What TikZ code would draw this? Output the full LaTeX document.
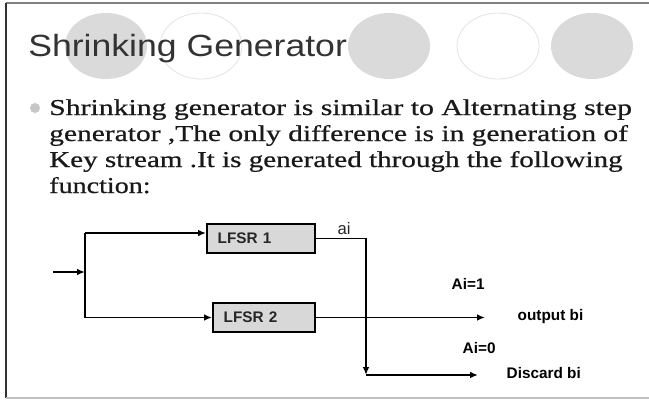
\documentclass[tikz,border=0pt]{standalone}
\usepackage{fontspec}
\usepackage{graphicx}
\setmainfont{Liberation Serif}
\setsansfont{Liberation Sans}
\newfontfamily\bodyfont{Liberation Serif}[FakeBold=0.6]
\usetikzlibrary{arrows.meta}

\definecolor{discgray}{HTML}{DADADA}
\definecolor{ringgray}{HTML}{E2E2E2}
\definecolor{boxgray}{HTML}{D8D8D8}
\definecolor{titlegray}{HTML}{333333}

% stretch a line of text to a given width, keep its height
\newcommand{\fitline}[2]{\resizebox{#1}{\height}{#2}}

\begin{document}
\begin{tikzpicture}[x=0.75pt,y=-0.75pt,
  graydisc/.style={fill=discgray,draw=none},
  ring/.style={draw=ringgray,line width=0.6pt},
  wire/.style={line width=1.4pt},
  flow/.style={wire,-{Latex[length=6pt,width=5pt]}},
  lfsr/.style={draw,line width=1.4pt,fill=boxgray,minimum height=21.75pt,
    inner xsep=8pt,align=left,text=black!85,
    font=\sffamily\bfseries\fontsize{11.5}{12}\selectfont},
  lbl/.style={anchor=base west,font=\sffamily\bfseries\fontsize{11.5}{12}\selectfont},
  body/.style={anchor=base west,inner sep=0pt,text=black!90,
    font=\bodyfont\fontsize{17}{19}\selectfont}]

\useasboundingbox (0,0) rectangle (649,400);

% slide frame
\draw[gray,line width=1.5pt] (6,3) -- (649,3);
\draw[black!80,line width=1.5pt] (6,3) -- (6,398);
\draw[black!25,line width=1.5pt] (6,398) -- (649,398);

% header discs
\fill[graydisc] (106,46) ellipse [x radius=30.75pt, y radius=24.75pt];
\draw[ring] (201,46) ellipse [x radius=30.75pt, y radius=24.75pt];
\fill[graydisc] (389,46) ellipse [x radius=30.75pt, y radius=24.75pt];
\draw[ring] (498,46) ellipse [x radius=30.75pt, y radius=24.75pt];
\fill[graydisc] (592,46) ellipse [x radius=30.75pt, y radius=24.75pt];

% title
\node[anchor=base west,inner sep=0pt,text=titlegray,font=\sffamily\fontsize{23}{26}\selectfont]
  (title) at (28,56) {\fitline{239pt}{Shrinking Generator}};

% bullet text
\fill[black!22] (35,108) circle [radius=3.75pt];
\node[body] (line1) at (49,115) {\fitline{437pt}{Shrinking generator is similar to Alternating step}};
\node[body] (line2) at (49,141) {\fitline{434pt}{generator ,The only difference is in generation of}};
\node[body] (line3) at (49,167) {\fitline{430pt}{Key stream .It is generated through the following}};
\node[body] (line4) at (49,193) {\fitline{76pt}{function:}};

% registers
\node[lfsr,text width=65pt] (L1) at (261,238.5) {LFSR 1};
\node[lfsr,text width=60.5pt] (L2) at (264,317.5) {LFSR 2};

\coordinate (in) at (53,272);
\coordinate (split) at (85,272);
\coordinate (up) at (85,233);
\coordinate (dn) at (85,317.5);
\coordinate (drop) at (366,375);
\coordinate (turn) at (L1.east -| drop);
\coordinate (outend) at (485,317.5);
\coordinate (disend) at (478,375);

\draw[flow] (in) -- (split);
\draw[wire] (up) -- (dn);
\draw[flow] (up) -- (up -| L1.west);
\draw[flow] (dn) -- (L2.west);
\draw[flow] (L1.east) -- (turn) -- (drop);
\draw[flow] (L2.east) -- (outend);
\draw[flow] (drop) -- (disend);

% labels
\node[anchor=base west,text=black!85,font=\sffamily\fontsize{12.5}{13}\selectfont] (ai) at (333,234) {ai};
\node[lbl] (a1) at (447,289) {Ai=1};
\node[lbl] (outp) at (513,320) {output bi};
\node[lbl] (a0) at (458,353) {Ai=0};
\node[lbl] (disc) at (502,378) {Discard bi};
\end{tikzpicture}
\end{document}
